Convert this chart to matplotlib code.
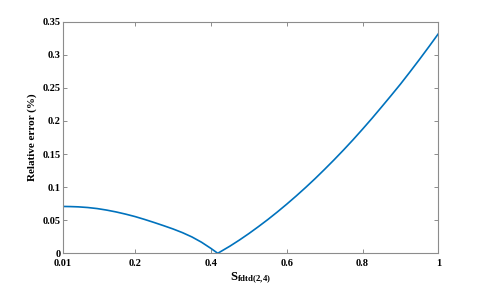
import matplotlib
matplotlib.use("Agg")
import matplotlib.pyplot as plt

# Courant number and relative error
s_vals = [0.01, 0.03, 0.05, 0.075, 0.1, 0.125, 0.15, 0.175, 0.2, 0.225,
          0.25, 0.275, 0.3, 0.325, 0.35, 0.375, 0.4, 0.418,
          0.45, 0.475, 0.5, 0.525, 0.55, 0.575, 0.6, 0.625, 0.65, 0.675,
          0.7, 0.725, 0.75, 0.775, 0.8, 0.825, 0.85, 0.875, 0.9, 0.925,
          0.95, 0.975, 1.0]
err_vals = [0.0708, 0.0706, 0.0702, 0.0692, 0.0676, 0.0653, 0.0625, 0.0592, 0.0555, 0.0512,
            0.0466, 0.0418, 0.0368, 0.0312, 0.0247, 0.0168, 0.0074, 0.0,
            0.0108, 0.0200, 0.0298, 0.0402, 0.0510, 0.0624, 0.0743, 0.0867, 0.0996, 0.1130,
            0.1270, 0.1414, 0.1563, 0.1717, 0.1877, 0.2041, 0.2211, 0.2383, 0.2558, 0.2742,
            0.2930, 0.3123, 0.332]

xticks = [0.01, 0.2, 0.4, 0.6, 0.8, 1]
xticklabels = ["0.01", "0.2", "0.4", "0.6", "0.8", "1"]
yticks = [0, 0.05, 0.1, 0.15, 0.2, 0.25, 0.3, 0.35]
yticklabels = ["0", "0.05", "0.1", "0.15", "0.2", "0.25", "0.3", "0.35"]

plt.rcParams["font.family"] = ["Liberation Serif", "DejaVu Serif"]
plt.rcParams["font.weight"] = "bold"
plt.rcParams["mathtext.fontset"] = "custom"
plt.rcParams["mathtext.bf"] = "Liberation Serif:bold"
plt.rcParams["mathtext.rm"] = "Liberation Serif:bold"

fig = plt.figure(figsize=(4.85, 2.87), dpi=100)
ax = fig.add_axes([0.130, 0.1174, 0.774, 0.807])

ax.plot(s_vals, err_vals, color="#0072BD", lw=1.2)

ax.set_xlim(0.01, 1)
ax.set_ylim(0, 0.35)
ax.set_xticks(xticks)
ax.set_xticklabels(xticklabels)
ax.set_yticks(yticks)
ax.set_yticklabels(yticklabels)
ax.tick_params(direction="in", top=True, right=True, length=3, width=0.7,
               color="#8c8c8c", labelsize=7.5)
ax.tick_params(axis="x", pad=4)
ax.tick_params(axis="y", pad=2)
for lab in ax.get_xticklabels() + ax.get_yticklabels():
    lab.set_fontweight("bold")
for sp in ax.spines.values():
    sp.set_color("#8c8c8c")
    sp.set_linewidth(0.8)

ax.set_xlabel(r"$\mathbf{S_{fdtd(2{,}4)}}$", fontsize=9, labelpad=2)
ax.set_ylabel("Relative error (%)", fontsize=8, fontweight="bold", labelpad=4)

fig.savefig("out.png", dpi=100)
